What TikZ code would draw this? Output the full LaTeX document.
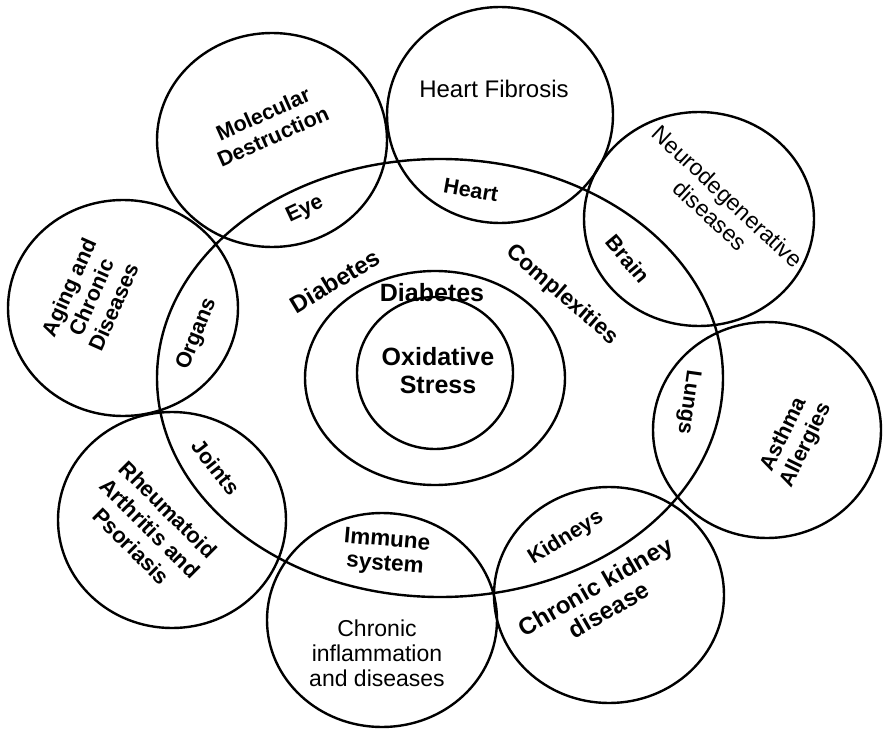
\documentclass[tikz,border=0pt]{standalone}
\usepackage{fontspec}
\setmainfont{Liberation Sans}
\begin{document}
\begin{tikzpicture}[x=1pt,y=-1pt,
  ring/.style={draw=black,line width=2.4pt},
  lab/.style={font=\bfseries\fontsize{21.5}{24.5}\selectfont,align=center,inner sep=0pt},
  labbig/.style={font=\bfseries\fontsize{24}{27}\selectfont,align=center,inner sep=0pt},
  reg/.style={font=\fontsize{23}{25}\selectfont,align=center,inner sep=0pt},
  core/.style={font=\bfseries\fontsize{25}{28}\selectfont,align=center,inner sep=0pt}]
\useasboundingbox (0,0) rectangle (883,733);
% outer circles
\draw[ring] (500,115) ellipse [x radius=113, y radius=108];
\draw[ring] (272,140) ellipse [x radius=115, y radius=107];
\draw[ring] (699,219) ellipse [x radius=115, y radius=107];
\draw[ring] (123,308) ellipse [x radius=115, y radius=108];
\draw[ring] (767,430) ellipse [x radius=114, y radius=108];
\draw[ring] (609,595) ellipse [x radius=115, y radius=108];
\draw[ring] (382,620) ellipse [x radius=115, y radius=107];
\draw[ring] (172,520) ellipse [x radius=114, y radius=108];
% central ellipses
\draw[ring] (440,378) ellipse [x radius=283, y radius=219];
\draw[ring] (435,378) ellipse [x radius=130, y radius=107];
\draw[ring] (435,373) ellipse [x radius=78, y radius=76];
% labels
\node[lab, rotate=24] (mol) at (268,125) {Molecular\\Destruction};
\node[reg, font=\fontsize{24}{26}\selectfont] (hf) at (494,89) {Heart Fibrosis};
\node[lab, rotate=-10] (heart) at (471,190) {Heart};
\node[lab, rotate=25] (eye) at (305,210) {Eye};
\node[lab, rotate=66] (aging) at (91,297) {Aging and\\Chronic\\Diseases};
\node[lab, rotate=68] (organs) at (197,334) {Organs};
\node[labbig, rotate=31] (diab1) at (335,281) {Diabetes};
\node[lab, font=\bfseries\fontsize{22.5}{25}\selectfont, rotate=-41] (compl) at (562,295) {Complexities};
\node[core] (diab2) at (432,293) {Diabetes};
\node[core] (ox) at (438,371) {Oxidative\\Stress};
\node[reg, font=\fontsize{23}{25.5}\selectfont, rotate=-43] (neuro) at (719,206) {Neurodegenerative\\diseases};
\node[lab, rotate=-50] (brain) at (628,259) {Brain};
\node[lab, rotate=-98] (lungs) at (688,402) {Lungs};
\node[lab, rotate=64] (asthma) at (795,440) {Asthma\\Allergies};
\node[lab, rotate=32] (kid) at (566,538) {Kidneys};
\node[labbig, rotate=30] (ckd) at (602,598) {Chronic kidney\\disease};
\node[reg] (cinf) at (377,653) {Chronic\\inflammation\\and diseases};
\node[lab, font=\bfseries\fontsize{22.5}{24}\selectfont, rotate=-5] (imm) at (386,553) {Immune\\system};
\node[lab, rotate=-52] (joints) at (216,467) {Joints};
\node[lab, font=\bfseries\fontsize{22}{26}\selectfont, rotate=-45] (rheu) at (150,528) {Rheumatoid\\Arthritis and\\Psoriasis};
\end{tikzpicture}
\end{document}
